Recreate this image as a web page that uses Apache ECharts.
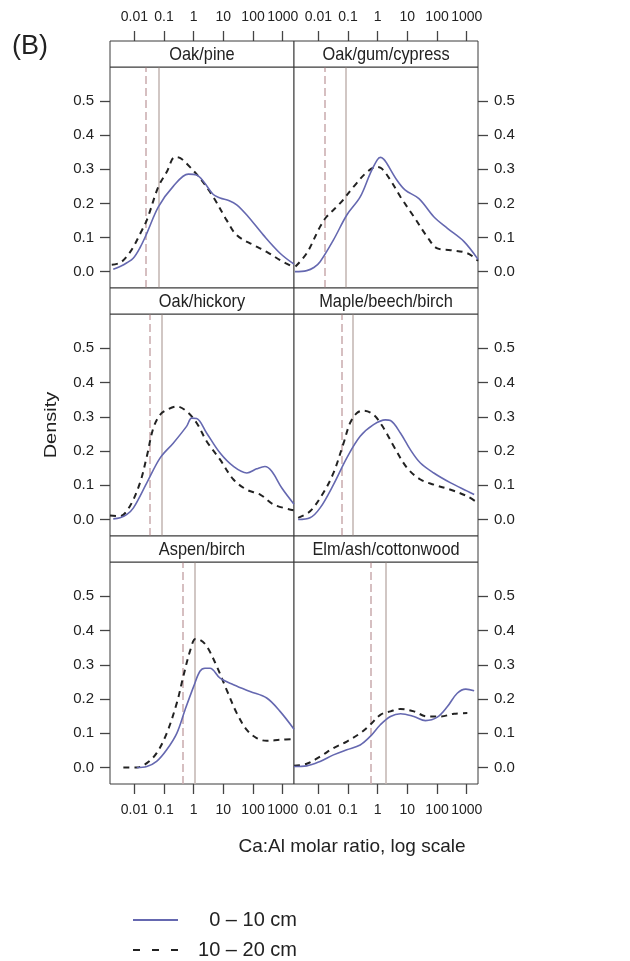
<!DOCTYPE html>
<html><head><meta charset="utf-8">
<script src="https://cdn.jsdelivr.net/npm/echarts@6/dist/echarts.min.js"></script>
<style>html,body{margin:0;padding:0;background:#fff}#c{width:630px;height:961px}</style>
</head><body><div id="c"></div><script>
// ---- data (x values are log10 of Ca:Al molar ratio) ----
const xTickValues = [-2, -1, 0, 1, 2, 3];
const xTickLabels = ['0.01', '0.1', '1', '10', '100', '1000'];
const yTickValues = [0, 0.1, 0.2, 0.3, 0.4, 0.5];
const yTickLabels = ['0.0', '0.1', '0.2', '0.3', '0.4', '0.5'];
const panelNames = ['Oak/pine', 'Oak/gum/cypress', 'Oak/hickory', 'Maple/beech/birch', 'Aspen/birch', 'Elm/ash/cottonwood'];
const seriesNames = ['0 \u2013 10 cm', '10 \u2013 20 cm'];

const oakPineTop = [[-2.71,0.007],[-2.48,0.015],[-2.25,0.026],[-2.03,0.040],[-1.81,0.07],[-1.58,0.112],[-1.19,0.19],[-0.69,0.25],[-0.18,0.286],[0.1,0.283],[0.35,0.262],[0.66,0.226],[0.89,0.216],[1.2,0.208],[1.45,0.196],[1.79,0.166],[2.35,0.107],[2.91,0.054],[3.38,0.022]];
const oakPineSub = [[-2.76,0.02],[-2.48,0.026],[-2.25,0.045],[-2.03,0.073],[-1.81,0.11],[-1.58,0.151],[-1.19,0.249],[-0.91,0.292],[-0.63,0.336],[-0.45,0.333],[-0.24,0.317],[0.22,0.273],[0.66,0.219],[1.11,0.151],[1.45,0.107],[2.01,0.078],[2.46,0.058],[2.91,0.034],[3.38,0.012]];
const oakGumTop = [[-2.79,0.0],[-2.39,0.003],[-2.15,0.012],[-1.94,0.029],[-1.49,0.093],[-1.04,0.166],[-0.59,0.219],[-0.25,0.288],[-0.02,0.327],[0.09,0.335],[0.2,0.33],[0.31,0.317],[0.65,0.268],[0.93,0.239],[1.39,0.214],[1.89,0.161],[2.35,0.127],[2.91,0.088],[3.38,0.036]];
const oakGumSub = [[-2.77,0.015],[-2.39,0.054],[-1.94,0.132],[-1.72,0.161],[-1.27,0.2],[-0.81,0.249],[-0.36,0.292],[-0.02,0.307],[0.14,0.302],[0.43,0.268],[0.77,0.219],[1.22,0.161],[1.67,0.102],[2.01,0.068],[2.46,0.063],[3.02,0.054],[3.38,0.032]];
const oakHickoryTop = [[-2.71,0.002],[-2.48,0.005],[-2.25,0.015],[-2.03,0.034],[-1.58,0.107],[-1.13,0.18],[-0.69,0.223],[-0.24,0.272],[-0.07,0.296],[0.1,0.295],[0.44,0.252],[0.89,0.194],[1.34,0.155],[1.79,0.136],[2.12,0.148],[2.40,0.155],[2.63,0.141],[2.97,0.092],[3.38,0.045]];
const oakHickorySub = [[-2.82,0.012],[-2.48,0.010],[-2.15,0.039],[-1.81,0.107],[-1.58,0.184],[-1.36,0.267],[-1.13,0.306],[-0.91,0.320],[-0.57,0.330],[-0.24,0.316],[0.10,0.282],[0.44,0.228],[0.89,0.175],[1.34,0.117],[1.79,0.087],[2.24,0.073],[2.69,0.044],[3.38,0.027]];
const mapleTop = [[-2.68,0.0],[-2.28,0.005],[-1.94,0.034],[-1.49,0.102],[-1.04,0.180],[-0.59,0.243],[-0.14,0.277],[0.26,0.291],[0.43,0.289],[0.77,0.252],[1.10,0.204],[1.44,0.165],[1.89,0.136],[2.46,0.107],[3.02,0.083],[3.25,0.073]];
const mapleSub = [[-2.68,0.005],[-2.28,0.024],[-1.83,0.078],[-1.49,0.136],[-1.15,0.223],[-0.93,0.282],[-0.70,0.311],[-0.48,0.318],[-0.14,0.306],[0.20,0.267],[0.54,0.214],[0.99,0.151],[1.44,0.117],[1.89,0.102],[2.46,0.087],[3.02,0.068],[3.38,0.048]];
const aspenTop = [[-1.92,0.0],[-1.58,0.003],[-1.25,0.018],[-0.91,0.052],[-0.57,0.1],[-0.29,0.169],[0,0.237],[0.21,0.281],[0.38,0.29],[0.55,0.29],[0.89,0.261],[1.34,0.242],[1.90,0.222],[2.46,0.203],[2.91,0.164],[3.38,0.112]];
const aspenSub = [[-2.37,0.0],[-1.92,0.0],[-1.58,0.013],[-1.25,0.042],[-0.91,0.1],[-0.57,0.188],[-0.35,0.266],[-0.11,0.344],[0.06,0.375],[0.21,0.373],[0.44,0.354],[0.78,0.295],[1.11,0.227],[1.45,0.159],[1.79,0.110],[2.12,0.086],[2.46,0.078],[2.91,0.081],[3.38,0.083]];
const elmTop = [[-2.82,0.003],[-2.39,0.005],[-1.94,0.018],[-1.49,0.037],[-1.04,0.052],[-0.59,0.066],[-0.25,0.091],[0.09,0.125],[0.43,0.149],[0.77,0.157],[1.22,0.149],[1.61,0.137],[2.01,0.147],[2.35,0.178],[2.68,0.217],[2.97,0.229],[3.25,0.224]];
const elmSub = [[-2.82,0.005],[-2.39,0.011],[-1.94,0.032],[-1.49,0.057],[-1.04,0.076],[-0.59,0.1],[-0.25,0.125],[0.09,0.154],[0.43,0.164],[0.77,0.171],[1.22,0.164],[1.67,0.149],[2.12,0.149],[2.57,0.157],[3.02,0.159]];
const medianTop = [-1.19, -1.07, -1.09, -0.85, 0.04, 0.28];
const medianSub = [-1.61, -1.77, -1.47, -1.21, -0.38, -0.22];

const curvesTop = [oakPineTop, oakGumTop, oakHickoryTop, mapleTop, aspenTop, elmTop];
const curvesSub = [oakPineSub, oakGumSub, oakHickorySub, mapleSub, aspenSub, elmSub];

// ---- layout ----
const colLeft = [110, 294], panelW = 184;
const rowTop = [67, 314, 562], panelH = [221, 222, 222], stripH = 26;
const xMin = -2.82, xMax = 3.38, yMin = -0.048, yMax = 0.6;
const FONT = "'Liberation Sans', Arial, Helvetica, sans-serif";
const frame = '#3a3a3a', tickCol = '#444', textCol = '#222';
const blue = '#6568b0', black = '#222';

const grids = [], xAxes = [], yAxes = [], series = [], graphics = [];
panelNames.forEach((name, i) => {
  const r = Math.floor(i / 2), c = i % 2;
  grids.push({left: colLeft[c], top: rowTop[r], width: panelW, height: panelH[r], show: true,
    borderColor: frame, borderWidth: 1, backgroundColor: '#fff', containLabel: false});
  const showX = r === 0 || r === 2;
  xAxes.push({type: 'value', gridIndex: i, min: xMin, max: xMax, show: showX,
    position: r === 0 ? 'top' : 'bottom', offset: r === 0 ? stripH : 0,
    axisLine: {show: false, onZero: false}, splitLine: {show: false},
    axisTick: {show: true, inside: false, length: 10, customValues: xTickValues, lineStyle: {color: tickCol, width: 1.3}},
    axisLabel: {show: true, customValues: xTickValues, margin: r === 0 ? 17 : 19, fontFamily: FONT, fontSize: 14, color: textCol,
      hideOverlap: false,
      formatter: v => xTickLabels[xTickValues.indexOf(Math.round(v))]}});
  yAxes.push({type: 'value', gridIndex: i, min: yMin, max: yMax, position: c === 0 ? 'left' : 'right',
    axisLine: {show: false, onZero: false}, splitLine: {show: false},
    axisTick: {show: true, inside: false, length: 10, customValues: yTickValues, lineStyle: {color: tickCol, width: 1.3}},
    axisLabel: {show: true, customValues: yTickValues, margin: 16, fontFamily: FONT, fontSize: 15, color: textCol,
      formatter: v => yTickLabels[yTickValues.findIndex(t => Math.abs(t - v) < 1e-6)]}});
  // median reference lines (behind curves)
  series.push({type: 'line', name: 'median', xAxisIndex: i, yAxisIndex: i, data: [], z: 1, silent: true,
    markLine: {silent: true, symbol: 'none', label: {show: false}, z: 1, animation: false,
      data: [
        {xAxis: medianSub[i], lineStyle: {color: '#c9aaad', width: 1.5, type: [8, 4]}},
        {xAxis: medianTop[i], lineStyle: {color: '#c2b5b1', width: 1.5, type: 'solid'}}
      ]}});
  series.push({type: 'line', name: seriesNames[1], xAxisIndex: i, yAxisIndex: i, data: curvesSub[i],
    smooth: 0.35, symbol: 'none', z: 3, clip: true, lineStyle: {color: black, width: 2, type: [6, 5]}, itemStyle: {color: black}});
  series.push({type: 'line', name: seriesNames[0], xAxisIndex: i, yAxisIndex: i, data: curvesTop[i],
    smooth: 0.35, symbol: 'none', z: 4, clip: true, lineStyle: {color: blue, width: 1.6}, itemStyle: {color: blue}});
  // strip
  graphics.push({type: 'rect', shape: {x: colLeft[c], y: rowTop[r] - stripH, width: panelW, height: stripH},
    style: {fill: '#fff', stroke: frame, lineWidth: 1}, z: 10});
  graphics.push({type: 'text', x: colLeft[c] + panelW / 2, y: rowTop[r] - stripH / 2 + 1, z: 11, scaleX: 0.86,
    style: {text: name, align: 'center', verticalAlign: 'middle', fill: textCol, font: '19px ' + FONT}});
});

graphics.push({type: 'text', x: 12, y: 47, style: {text: '(B)', align: 'left', verticalAlign: 'middle', fill: textCol, font: '27px ' + FONT}});
graphics.push({type: 'text', x: 51, y: 425, rotation: Math.PI / 2, scaleY: 0.85,
  style: {text: 'Density', align: 'center', verticalAlign: 'middle', fill: textCol, font: '20px ' + FONT}});
graphics.push({type: 'text', x: 352, y: 847,
  style: {text: 'Ca:Al molar ratio, log scale', align: 'center', verticalAlign: 'middle', fill: textCol, font: '19px ' + FONT}});

const solidIcon = 'path://M0,0H45V2H0Z';
const dashIcon = 'path://M0,0H7V2H0Z M19,0H26V2H19Z M38,0H45V2H38Z';

const chart = echarts.init(document.getElementById('c'), null, {renderer: 'canvas'});
chart.setOption({
  animation: false,
  backgroundColor: '#fff',
  grid: grids, xAxis: xAxes, yAxis: yAxes, series: series,
  legend: {data: [{name: seriesNames[0], icon: solidIcon}, {name: seriesNames[1], icon: dashIcon}],
    orient: 'vertical', left: 133, top: 910, padding: 0, itemWidth: 45, itemHeight: 2, itemGap: 10,
    selectedMode: false,
    formatter: n => '{r|' + n + '}',
    textStyle: {fontFamily: FONT, fontSize: 20, color: textCol,
      rich: {r: {width: 114, align: 'right', fontFamily: FONT, fontSize: 20, lineHeight: 22, color: textCol}}}},
  graphic: graphics
});
</script></body></html>
